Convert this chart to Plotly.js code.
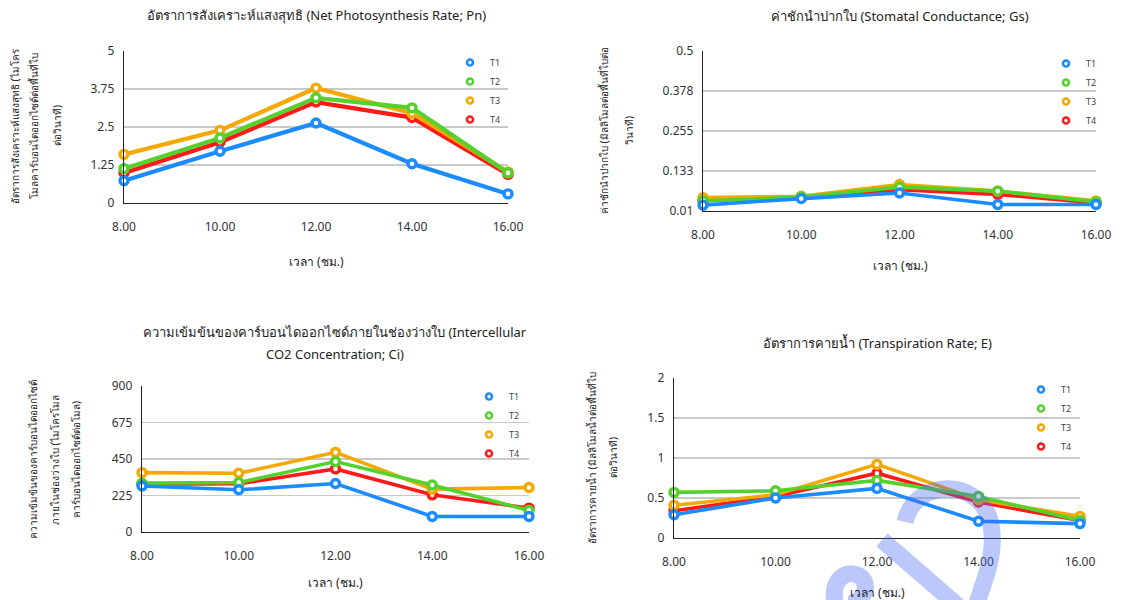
<!DOCTYPE html>
<html>
<head>
<meta charset="utf-8">
<script src="https://cdn.plot.ly/plotly-3.0.1.min.js"></script>
<style>
  html, body { margin: 0; padding: 0; background: #fff; }
  #chart { width: 1121px; height: 600px; }
</style>
</head>
<body>
<div id="chart"></div>
<script>
// Measurement times (hours of the day)
const times = ['8.00', '10.00', '12.00', '14.00', '16.00'];
const treatments = ['T1', 'T2', 'T3', 'T4'];

// Net photosynthesis rate (Pn)
const pnT1 = [0.73, 1.70, 2.63, 1.29, 0.30];
const pnT2 = [1.13, 2.14, 3.46, 3.13, 0.99];
const pnT3 = [1.60, 2.39, 3.78, 2.95, 1.02];
const pnT4 = [0.99, 2.00, 3.32, 2.81, 0.94];

// Stomatal conductance (Gs)
const gsT1 = [0.028, 0.048, 0.065, 0.030, 0.030];
const gsT2 = [0.041, 0.053, 0.083, 0.071, 0.038];
const gsT3 = [0.051, 0.055, 0.091, 0.071, 0.041];
const gsT4 = [0.043, 0.053, 0.075, 0.061, 0.035];

// Intercellular CO2 concentration (Ci)
const ciT1 = [284, 260, 299, 96, 96];
const ciT2 = [301, 305, 434, 290, 133];
const ciT3 = [366, 362, 491, 264, 274];
const ciT4 = [295, 297, 389, 229, 147];

// Transpiration rate (E)
const eT1 = [0.29, 0.50, 0.62, 0.21, 0.18];
const eT2 = [0.57, 0.59, 0.72, 0.52, 0.22];
const eT3 = [0.41, 0.54, 0.92, 0.48, 0.27];
const eT4 = [0.34, 0.52, 0.81, 0.45, 0.22];

// Y-axis tick values and their labels
const pnTicks = [0, 1.25, 2.5, 3.75, 5];
const pnTickText = ['0', '1.25', '2.5', '3.75', '5'];
const gsTicks = [0.01, 0.1325, 0.255, 0.3775, 0.5];
const gsTickText = ['0.01', '0.133', '0.255', '0.378', '0.5'];
const ciTicks = [0, 225, 450, 675, 900];
const ciTickText = ['0', '225', '450', '675', '900'];
const eTicks = [0, 0.5, 1, 1.5, 2];
const eTickText = ['0', '0.5', '1', '1.5', '2'];

const colors = { T1: '#1a8cff', T2: '#55d12e', T3: '#f5a800', T4: '#ff1a1a' };
const FONT = 'Tahoma, "Noto Sans", "DejaVu Sans", sans-serif';

const W = 1121, H = 600;
const px = (a, b) => [a / W, b / W];
const py = (top, bottom) => [1 - bottom / H, 1 - top / H];

// One panel: series per treatment, drawn T4 first so T1 sits on top
function panel(idx, seriesMap, lineWidth) {
  const xa = idx === 1 ? 'x' : 'x' + idx;
  const ya = idx === 1 ? 'y' : 'y' + idx;
  const lg = idx === 1 ? 'legend' : 'legend' + idx;
  const out = [];
  ['T4', 'T3', 'T2', 'T1'].forEach(t => {
    out.push({
      type: 'scatter', mode: 'lines+markers', x: times, y: seriesMap[t],
      xaxis: xa, yaxis: ya, name: t, showlegend: false, cliponaxis: false,
      line: { color: colors[t], width: lineWidth },
      marker: { symbol: 'circle', size: 8, color: '#ffffff', line: { color: colors[t], width: 3.4 } },
      hoverinfo: 'x+y+name'
    });
  });
  treatments.forEach(t => {
    out.push({
      type: 'scatter', mode: 'markers', x: [null], y: [null],
      xaxis: xa, yaxis: ya, name: t, legend: lg, showlegend: true,
      marker: { symbol: 'circle', size: 6, color: '#ffffff', line: { color: colors[t], width: 2.6 } }
    });
  });
  return out;
}

const data = [].concat(
  panel(1, { T1: pnT1, T2: pnT2, T3: pnT3, T4: pnT4 }, 4.2),
  panel(2, { T1: gsT1, T2: gsT2, T3: gsT3, T4: gsT4 }, 3.6),
  panel(3, { T1: ciT1, T2: ciT2, T3: ciT3, T4: ciT4 }, 3.6),
  panel(4, { T1: eT1, T2: eT2, T3: eT3, T4: eT4 }, 3.6)
);

function xAxis(domain, anchor) {
  return {
    domain: domain, anchor: anchor, type: 'category', range: [0, times.length - 1],
    showgrid: false, zeroline: false, showline: true, linecolor: '#222', linewidth: 1.3,
    ticks: '', ticklabelstandoff: 12, tickfont: { family: FONT, size: 12, color: '#333' },
    fixedrange: true
  };
}
function yAxis(domain, anchor, vals, text) {
  return {
    domain: domain, anchor: anchor, range: [vals[0], vals[vals.length - 1]],
    tickmode: 'array', tickvals: vals, ticktext: text,
    showgrid: true, gridcolor: '#c9c9c9', gridwidth: 1.3, zeroline: false,
    showline: true, linecolor: '#222', linewidth: 1.3,
    ticks: '', ticklabelstandoff: 6, tickfont: { family: FONT, size: 12, color: '#333' },
    fixedrange: true
  };
}
function legendAt(left, top) {
  return {
    x: left / W, y: 1 - top / H, xanchor: 'left', yanchor: 'top', bgcolor: 'rgba(0,0,0,0)',
    font: { family: FONT, size: 9, color: '#444' }, itemwidth: 30, tracegroupgap: 0,
    itemclick: false, itemdoubleclick: false
  };
}

const ann = (x, y, text, opts) => Object.assign({
  xref: 'paper', yref: 'paper', x: x / W, y: 1 - y / H, text: text, showarrow: false,
  xanchor: 'center', yanchor: 'middle', font: { family: FONT, size: 12, color: '#222' }
}, opts || {});
const titleFont = { family: FONT, size: 13, color: '#222' };
const yTitleFont = { family: FONT, size: 10, color: '#222' };
const yTitle = (x, y, text) => ann(x, y, text, { textangle: -90, font: yTitleFont });

// Faint brush-stroke watermark near the bottom right (page pixel coordinates)
const P = (x, y) => (x / W).toFixed(4) + ',' + (1 - y / H).toFixed(4);
const watermarkPath =
  'M' + P(905, 522) + ' C' + P(915, 478) + ' ' + P(978, 478) + ' ' + P(990, 520) +
  ' C' + P(998, 552) + ' ' + P(984, 580) + ' ' + P(976, 606) +
  ' M' + P(882, 540) + ' L' + P(958, 606) +
  ' M' + P(836, 606) + ' C' + P(828, 580) + ' ' + P(848, 566) + ' ' + P(862, 578) +
  ' C' + P(872, 590) + ' ' + P(858, 604) + ' ' + P(848, 604);

const layout = {
  width: W, height: H, margin: { l: 0, r: 0, t: 0, b: 0 },
  paper_bgcolor: '#ffffff', plot_bgcolor: '#ffffff', showlegend: true,
  font: { family: FONT },
  xaxis: xAxis(px(124, 508), 'y'),
  yaxis: yAxis(py(51, 203), 'x', pnTicks, pnTickText),
  xaxis2: xAxis(px(703, 1096), 'y2'),
  yaxis2: yAxis(py(51, 211), 'x2', gsTicks, gsTickText),
  xaxis3: xAxis(px(142, 529), 'y3'),
  yaxis3: yAxis(py(386, 532), 'x3', ciTicks, ciTickText),
  xaxis4: xAxis(px(674, 1080), 'y4'),
  yaxis4: yAxis(py(378, 538), 'x4', eTicks, eTickText),
  legend: legendAt(450, 48),
  legend2: legendAt(1046, 49),
  legend3: legendAt(469, 382),
  legend4: legendAt(1021, 375),
  shapes: [{
    type: 'path', xref: 'paper', yref: 'paper', layer: 'above', path: watermarkPath,
    line: { color: 'rgba(70,100,240,0.36)', width: 17 }, fillcolor: 'rgba(0,0,0,0)'
  }],
  annotations: [
    // panel titles
    ann(316, 15, 'อัตราการสังเคราะห์แสงสุทธิ (Net Photosynthesis Rate; Pn)', { font: titleFont }),
    ann(900, 16, 'ค่าชักนำปากใบ (Stomatal Conductance; Gs)', { font: titleFont }),
    ann(335, 332, 'ความเข้มข้นของคาร์บอนไดออกไซด์ภายในช่องว่างใบ (Intercellular', { font: titleFont }),
    ann(335, 354, 'CO2 Concentration; Ci)', { font: titleFont }),
    ann(877, 343, 'อัตราการคายน้ำ (Transpiration Rate; E)', { font: titleFont }),
    // x-axis titles
    ann(316, 261, 'เวลา (ชม.)'),
    ann(900, 265, 'เวลา (ชม.)'),
    ann(335, 582, 'เวลา (ชม.)'),
    ann(877, 592, 'เวลา (ชม.)'),
    // y-axis titles, one line each
    yTitle(15, 126, 'อัตราการสังเคราะห์แสงสุทธิ (ไมโคร'),
    yTitle(34, 126, 'โมลคาร์บอนไดออกไซด์ต่อพื้นที่ใบ'),
    yTitle(57, 126, 'ต่อวินาที)'),
    yTitle(604, 131, 'ค่าชักนำปากใบ (มิลลิโมลต่อพื้นที่ใบต่อ'),
    yTitle(629, 131, 'วินาที)'),
    yTitle(33, 460, 'ความเข้มข้นของคาร์บอนไดออกไซด์'),
    yTitle(55, 460, 'ภายในช่องว่างใบ (ไมโครโมล'),
    yTitle(76, 460, 'คาร์บอนไดออกไซด์ต่อโมล)'),
    yTitle(592, 458, 'อัตราการคายน้ำ (มิลลิโมลน้ำต่อพื้นที่ใบ'),
    yTitle(613, 458, 'ต่อวินาที)')
  ]
};

Plotly.newPlot('chart', data, layout, { staticPlot: true, displayModeBar: false });
</script>
</body>
</html>
